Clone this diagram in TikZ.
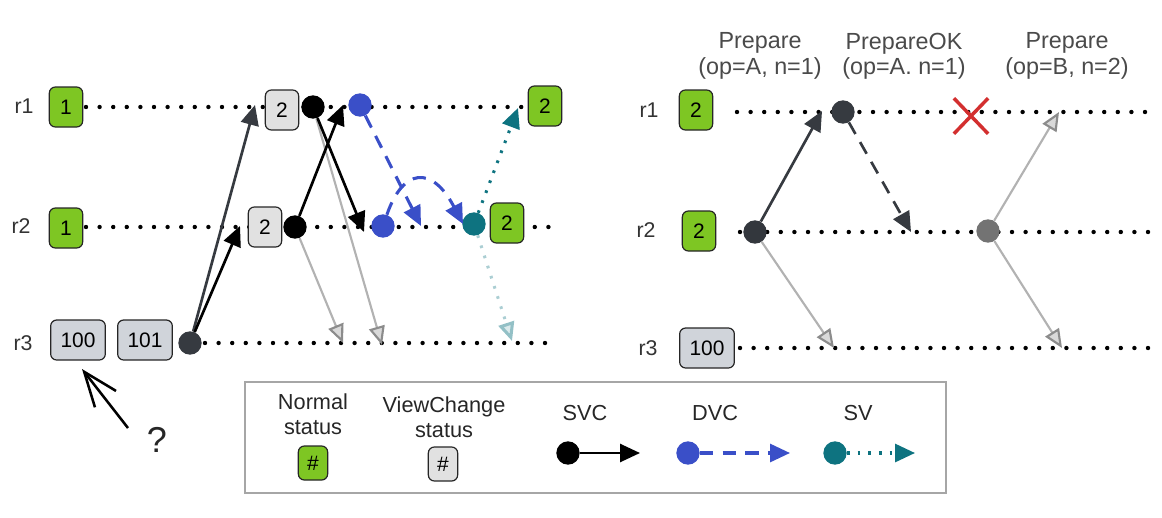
\documentclass[tikz,border=0pt]{standalone}
\usepackage{fontspec}
\setmainfont{Liberation Sans}
\usetikzlibrary{arrows.meta,shapes.misc}

\definecolor{vrgreen}{HTML}{7EC623}
\definecolor{vcgray}{HTML}{E1E1E1}
\definecolor{oldgray}{HTML}{D0D4DA}
\definecolor{svcdark}{HTML}{363A40}
\definecolor{dvcblue}{HTML}{3A4FC8}
\definecolor{svteal}{HTML}{0E7380}
\definecolor{crossred}{HTML}{D32F2F}
\definecolor{msggray}{HTML}{4A4A4A}

\tikzset{
  lane/.style={line width=3.3pt, dash pattern=on 0pt off 10.2pt, line cap=round},
  rlabel/.style={text=black!80, font=\fontsize{16}{19}\selectfont},
  msglabel/.style={text=msggray, align=center, font=\fontsize{17.5}{19}\selectfont},
  legtext/.style={text=black!85, align=center, font=\fontsize{16.3}{19}\selectfont},
  statusbox/.style={draw=black!85, line width=0.9pt, rounded corners=4.5pt, minimum width=25pt, minimum height=30pt, inner sep=1pt, font=\fontsize{15.7}{18}\selectfont},
  normalbox/.style={statusbox, fill=vrgreen},
  vcbox/.style={statusbox, fill=vcgray},
  logbox/.style={statusbox, fill=oldgray, minimum width=41pt},
  ev/.style={circle, inner sep=0pt, minimum size=17.5pt},
  svc/.style={line width=2pt, -{Triangle[length=15pt,width=13.5pt]}},
  dvc/.style={svc, dvcblue, line width=2.3pt, dash pattern=on 10pt off 7pt},
  sv/.style={svc, svteal, line width=2.3pt, dash pattern=on 2pt off 6pt},
  lost/.style={line width=1.6pt, draw=black!30, -{Triangle[length=14pt,width=12pt,color=black!45,fill=black!15]}},
  lostsv/.style={line width=2.3pt, draw=svteal!35, dash pattern=on 2pt off 6pt, -{Triangle[length=14pt,width=12pt,color=svteal!45,fill=svteal!15]}}
}

\begin{document}
\begin{tikzpicture}[x=0.75pt,y=0.75pt,yscale=-1,xscale=1]
    \useasboundingbox (0,0) rectangle (1162,517);

    %Lanes: left
    \draw[lane] (86,107) -- (525,107);
    \draw[lane] (86,227) -- (555,227);
    \draw[lane] (205,343) -- (550,343);
    %Lanes: right
    \draw[lane] (737,112) -- (1158,112);
    \draw[lane] (740,232) -- (1158,232);
    \draw[lane] (740,348) -- (1158,348);

    % Text Node
    \node[rlabel] (lr1) at (24,106) {r1};
    \node[rlabel] (lr2) at (21,226) {r2};
    \node[rlabel] (lr3) at (23,343) {r3};
    \node[normalbox] (na1) at (66,107) {1};
    \node[normalbox] (nb1) at (66,228) {1};
    \node[logbox] (log100) at (78,340) {100};
    \node[logbox] (log101) at (145,340) {101};

    %Events: left
    \node[ev, fill=svcdark] (sc3) at (190,343) {};
    \node[vcbox] (va2) at (282,110) {2};
    \node[ev, fill=black] (sca) at (313,107) {};
    \node[ev, fill=dvcblue] (dca) at (360,105) {};
    \node[normalbox] (na2) at (545,106) {2};
    \node[vcbox] (vb2) at (265,227) {2};
    \node[ev, fill=black] (scb) at (295,227) {};
    \node[ev, fill=dvcblue] (dcb) at (383,226) {};
    \node[ev, fill=svteal] (svb) at (474,224) {};
    \node[normalbox] (nb2) at (507,223) {2};

    \coordinate (ta1) at (255,105);
    \coordinate (tb1) at (240,226);
    \coordinate (ta2) at (343,105);
    \coordinate (tb2) at (364,232);
    \coordinate (tc1) at (343,343);
    \coordinate (tc2) at (382,345);
    \coordinate (tb3) at (421,226);
    \coordinate (tb4) at (463,224);
    \coordinate (ta3) at (518,108);
    \coordinate (tc3) at (512,341);

    \draw[lost] (scb) -- (tc1);
    \draw[lost] (sca) -- (tc2);
    \draw[lostsv] (svb) -- (tc3);
    \draw[svc, svcdark] (sc3) -- (ta1);
    \draw[svc] (sc3) -- (tb1);
    \draw[svc] (scb) -- (ta2);
    \draw[svc] (sca) -- (tb2);
    \draw[dvc] (dca) -- (tb3);
    \draw[dvc] (dcb) .. controls (403,168) and (432,165) .. (tb4);
    \draw[sv] (svb) -- (ta3);

    %Question mark
    \node[font=\fontsize{27}{30}\selectfont, text=black!85] (qmark) at (157,440) {?};
    \coordinate (qtail) at (128,428);
    \coordinate (qtip) at (82,369);
    \draw[line width=1.9pt, -{Straight Barb[length=26pt,width=20pt]}] (qtail) -- (qtip);

    %Right: labels
    \node[msglabel] (m1) at (760,56) {Prepare\\(op=A, n=1)};
    \node[msglabel] (m2) at (904,56) {PrepareOK\\(op=A. n=1)};
    \node[msglabel] (m3) at (1067,56) {Prepare\\(op=B, n=2)};
    \node[rlabel] (rr1) at (649,110) {r1};
    \node[rlabel] (rr2) at (646,230) {r2};
    \node[rlabel] (rr3) at (648,348) {r3};
    \node[normalbox] (nc2) at (696,110) {2};
    \node[normalbox] (nd2) at (699,231) {2};
    \node[logbox] (log100r) at (707,348) {100};

    %Events: right
    \node[ev, fill=svcdark] (pc) at (843,112) {};
    \node[ev, fill=svcdark!95!black] (pd) at (755,232) {};
    \node[ev, fill=black!55] (pe) at (988,231) {};
    \node[cross out, draw=crossred, line width=2.6pt, minimum width=23pt, minimum height=24pt, inner sep=0pt] (drop) at (971,116) {};

    \coordinate (tc4) at (822,111);
    \coordinate (td4) at (911,232);
    \coordinate (te4) at (834,348);
    \coordinate (tf4) at (1059,112);
    \coordinate (tg4) at (1062,348);

    \draw[lost] (pd) -- (te4);
    \draw[lost] (pe) -- (tf4);
    \draw[lost] (pe) -- (tg4);
    \draw[svc, svcdark] (pd) -- (tc4);
    \draw[svc, svcdark, dash pattern=on 10pt off 7pt] (pc) -- (td4);

    %Legend
    \node[draw=black!35, line width=1.5pt, minimum width=525.75pt, minimum height=83.25pt, inner sep=0pt] (legend) at (595.5,437.5) {};
    \node[legtext] (lnorm) at (313,414) {Normal\\status};
    \node[normalbox, minimum width=22pt, minimum height=25.5pt] (gnorm) at (313,463) {\#};
    \node[legtext] (lvc) at (444,417) {ViewChange\\status};
    \node[vcbox, minimum width=22pt, minimum height=25.5pt] (gvc) at (443,464) {\#};
    \node[legtext] (lsvc) at (585,413) {SVC};
    \node[legtext] (ldvc) at (715,413) {DVC};
    \node[legtext] (lsv) at (858,413) {SV};
    \node[ev, fill=black] (ksvc) at (568,453) {};
    \node[ev, fill=dvcblue] (kdvc) at (688,453) {};
    \node[ev, fill=svteal] (ksv) at (835,453) {};
    \coordinate (ksvcend) at (640,453);
    \coordinate (kdvcend) at (790,453);
    \coordinate (ksvend) at (915,453);
    \draw[svc] (ksvc) -- (ksvcend);
    \draw[dvc] (kdvc) -- (kdvcend);
    \draw[sv] (ksv) -- (ksvend);

\end{tikzpicture}
\end{document}
